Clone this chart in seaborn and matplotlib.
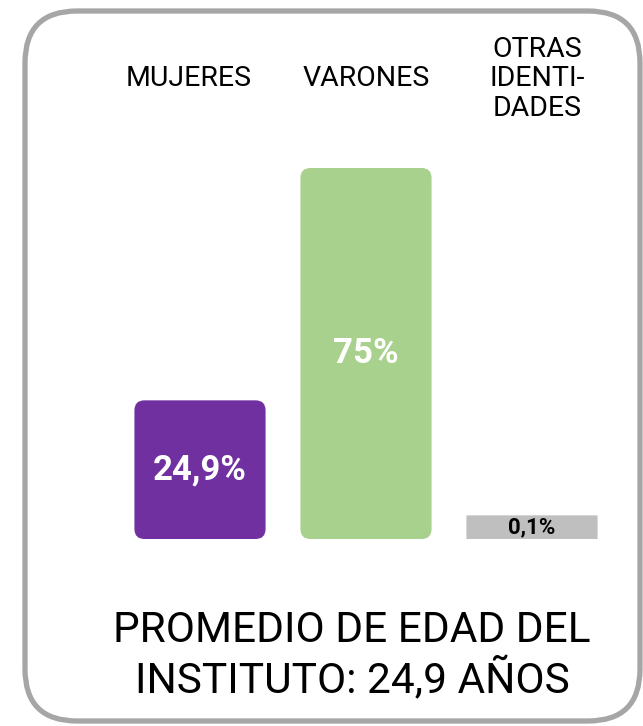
import matplotlib
matplotlib.use("Agg")
import matplotlib.pyplot as plt
import matplotlib.transforms as mtransforms
from matplotlib.patches import FancyBboxPatch
import seaborn as sns
import pandas as pd

sns.set_theme(style="white")
plt.rcParams['font.family'] = ['Roboto', 'DejaVu Sans']

# data
categories = ['MUJERES', 'VARONES', 'OTRAS\nIDENTI-\nDADES']
values = [24.9, 75.0, 0.1]
value_labels = ['24,9%', '75%', '0,1%']
colors = ['#7030A0', '#A9D18E', '#BFBFBF']
label_colors = ['white', 'white', 'black']
footer = 'PROMEDIO DE EDAD DEL\nINSTITUTO: 24,9 AÑOS'

df = pd.DataFrame({'cat': categories, 'val': values})

W, H = 643, 726
fig = plt.figure(figsize=(W / 100, H / 100), dpi=100)

# background frame (pixel coords)
bg = fig.add_axes([0, 0, 1, 1], zorder=0)
bg.set_xlim(0, W)
bg.set_ylim(H, 0)
bg.axis('off')
bg.add_patch(FancyBboxPatch((25, 11), 615, 710,
                            boxstyle="round,pad=0,rounding_size=52",
                            fc='white', ec='#A6A6A6', lw=3.8))

# bars
offset = 5  # small bars stay visible
px_x, px_bottom, px_top = 166, 539, 168
ax = fig.add_axes([(200 - 0.5 * px_x) / W, (H - px_bottom) / H,
                   3 * px_x / W, (px_bottom - px_top) / H], zorder=1)
ax.patch.set_alpha(0)
sns.barplot(data=df, x='cat', y='val', hue='cat', palette=colors,
            width=0.79, legend=False, ax=ax)
ax.set_xlim(-0.5, 2.5)
ax.set_ylim(-offset, 75)
ax.axis('off')

xs_per_px = 3 / (3 * px_x)
ys_per_px = 80 / (px_bottom - px_top)
aspect = ys_per_px / xs_per_px

for i, p in enumerate(list(ax.patches)):
    x0, w, h = p.get_x(), p.get_width(), p.get_height()
    p.remove()
    r = 10 * xs_per_px if h > 10 else 0.0001
    box = FancyBboxPatch((x0, -offset), w, h + offset,
                         boxstyle=f"round,pad=0,rounding_size={r}",
                         mutation_aspect=aspect, fc=colors[i], ec='none')
    ax.add_patch(box)
    big = h > 10
    ax.text(x0 + w / 2, (h - offset) / 2, value_labels[i],
            ha='center', va='center', color=label_colors[i],
            fontsize=25 if big else 16, fontweight='semibold')

# category labels above
trans = mtransforms.blended_transform_factory(ax.transData, fig.transFigure)
label_shift = [-0.07, 0.0, 0.03]
for i, c in enumerate(categories):
    ax.text(i + label_shift[i], 1 - 79 / H, c, transform=trans,
            ha='center', va='center', fontsize=20.5, fontweight='normal',
            linespacing=1.12, color='black', clip_on=False)

fig.text(352 / W, 1 - 656 / H, footer, ha='center', va='center',
         fontsize=30.5, fontweight='normal', linespacing=1.22, color='black')

fig.savefig('out.png', dpi=100)
